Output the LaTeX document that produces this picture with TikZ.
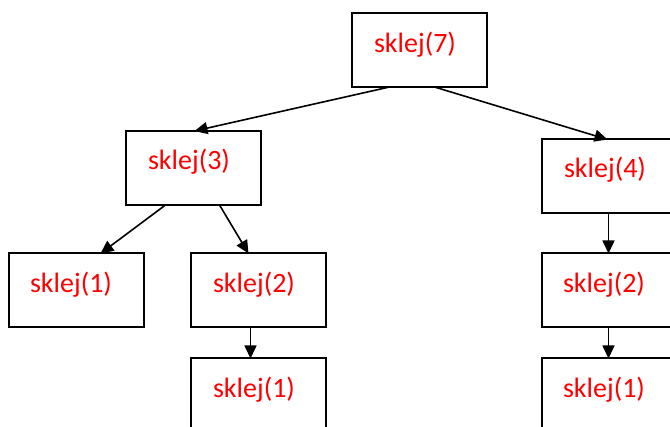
\documentclass[tikz,border=0pt]{standalone}
\usepackage{fontspec}
\setmainfont{Carlito}
\usetikzlibrary{arrows.meta}
\begin{document}
\begin{tikzpicture}[x=1pt,y=-1pt,
  box/.style={draw=black,line width=2pt,minimum width=135pt,minimum height=74pt,inner sep=0pt,outer sep=0pt},
  lbl/.style={text=red,font=\fontsize{28}{32}\selectfont,inner sep=0pt},
  conn/.style={line width=1.6pt,-{Triangle[length=13pt,width=12pt]}}]
\useasboundingbox (0,0) rectangle (670,427);
\clip (0,0) rectangle (670,427);
\node[box] (n7) at (419.5,50) {};
\node[box] (n3) at (193.5,168) {};
\node[box] (n4) at (609.5,176.5) {};
\node[box] (n1a) at (76.5,290.5) {};
\node[box] (n2a) at (258.5,290.5) {};
\node[box] (n1b) at (258.5,395.5) {};
\node[box] (n2b) at (609.5,290.5) {};
\node[box] (n1c) at (609.5,395.5) {};
\node[lbl] at (415,45) {sklej(7)};
\node[lbl] at (189,162) {sklej(3)};
\node[lbl] at (605,170) {sklej(4)};
\node[lbl] at (71,285) {sklej(1)};
\node[lbl] at (254,285) {sklej(2)};
\node[lbl] at (254,390) {sklej(1)};
\node[lbl] at (604,285) {sklej(2)};
\node[lbl] at (604,390) {sklej(1)};
\draw[conn] ([xshift=-30pt]n7.south) -- ([xshift=1pt]n3.north);
\draw[conn] ([xshift=15pt]n7.south) -- ([xshift=-2pt]n4.north);
\draw[conn] ([xshift=-28pt]n3.south) -- ([xshift=24pt]n1a.north);
\draw[conn] ([xshift=26pt]n3.south) -- ([xshift=-10pt]n2a.north);
\draw[conn] ([xshift=-8pt]n2a.south) -- ([xshift=-8pt]n1b.north);
\draw[conn] ([xshift=-1pt]n4.south) -- ([xshift=-1pt]n2b.north);
\draw[conn] ([xshift=-1pt]n2b.south) -- ([xshift=-1pt]n1c.north);
\end{tikzpicture}
\end{document}
